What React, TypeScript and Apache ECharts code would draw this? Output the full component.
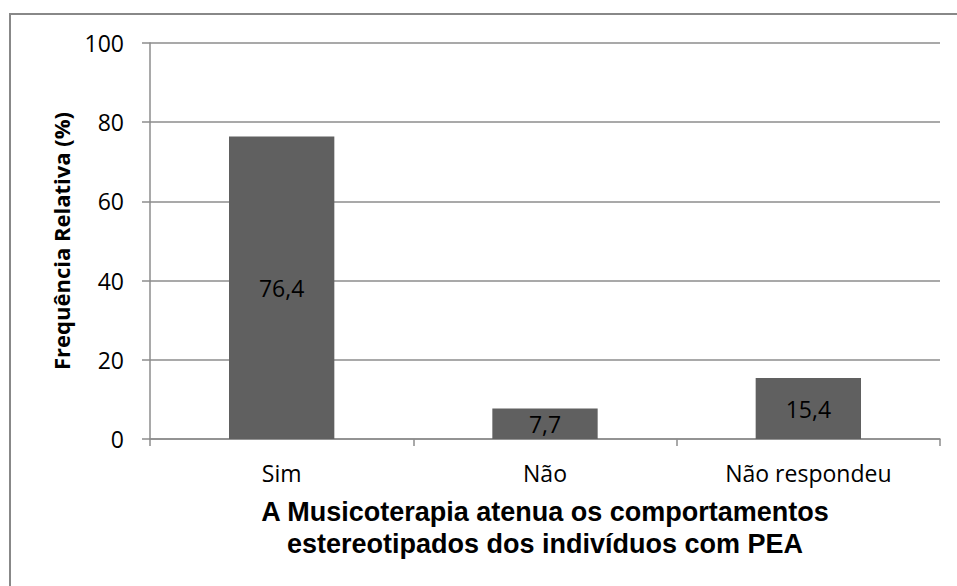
import React, { useEffect, useRef } from "react";
import * as echarts from "echarts";

const categories = ["Sim", "Não", "Não respondeu"];
const values = [76.4, 7.7, 15.4];
const yTicks = { min: 0, max: 100, interval: 20 };
const yAxisTitle = "Frequência Relativa (%)";
const xAxisTitle = "A Musicoterapia atenua os comportamentos\nestereotipados dos indivíduos com PEA";

export default function App() {
  const ref = useRef<HTMLDivElement>(null);
  useEffect(() => {
    if (!ref.current) return;
    const chart = echarts.init(ref.current, undefined, { renderer: "svg" });
    const bodyFont = "'Open Sans', 'Noto Sans', sans-serif";
    chart.setOption({
      animation: false,
      backgroundColor: "#ffffff",
      graphic: [
        {
          type: "rect",
          shape: { x: 10, y: 14, width: 980, height: 620 },
          style: { fill: "none", stroke: "#888888", lineWidth: 2 },
          silent: true,
        },
      ],
      grid: { left: 150, right: 17, top: 43, bottom: 147, containLabel: false },
      xAxis: {
        type: "category",
        data: categories,
        axisLine: { lineStyle: { color: "#8c8c8c", width: 1.5 } },
        axisTick: { show: true, length: 7, lineStyle: { color: "#8c8c8c", width: 1.5 } },
        axisLabel: { color: "#000", fontSize: 23, fontFamily: bodyFont, margin: 22 },
        name: xAxisTitle,
        nameLocation: "middle",
        nameGap: 57,
        nameTextStyle: {
          color: "#000",
          fontSize: 27,
          fontWeight: "bold",
          fontFamily: "'Liberation Sans', Arial, sans-serif",
          lineHeight: 32,
          verticalAlign: "top",
        },
      },
      yAxis: {
        type: "value",
        min: yTicks.min,
        max: yTicks.max,
        interval: yTicks.interval,
        axisLine: { show: true, lineStyle: { color: "#8c8c8c", width: 1.5 } },
        axisTick: { show: true, length: 8, lineStyle: { color: "#8c8c8c", width: 1.5 } },
        splitLine: { show: true, lineStyle: { color: "#8c8c8c", width: 1.5 } },
        axisLabel: { color: "#000", fontSize: 23, fontFamily: bodyFont, margin: 26 },
        name: yAxisTitle,
        nameLocation: "middle",
        nameGap: 78,
        nameTextStyle: {
          color: "#000",
          fontSize: 22,
          fontWeight: "bold",
          fontFamily: bodyFont,
        },
      },
      series: [
        {
          type: "bar",
          data: values,
          barWidth: "40%",
          itemStyle: { color: "#606060" },
          label: {
            show: true,
            position: "inside",
            color: "#000",
            fontSize: 23,
            fontFamily: bodyFont,
            formatter: (p: any) => String(p.value).replace(".", ","),
          },
        },
      ],
    });
    return () => chart.dispose();
  }, []);
  return <div ref={ref} style={{ width: 957, height: 586, position: "absolute", left: 0, top: 0 }} />;
}
